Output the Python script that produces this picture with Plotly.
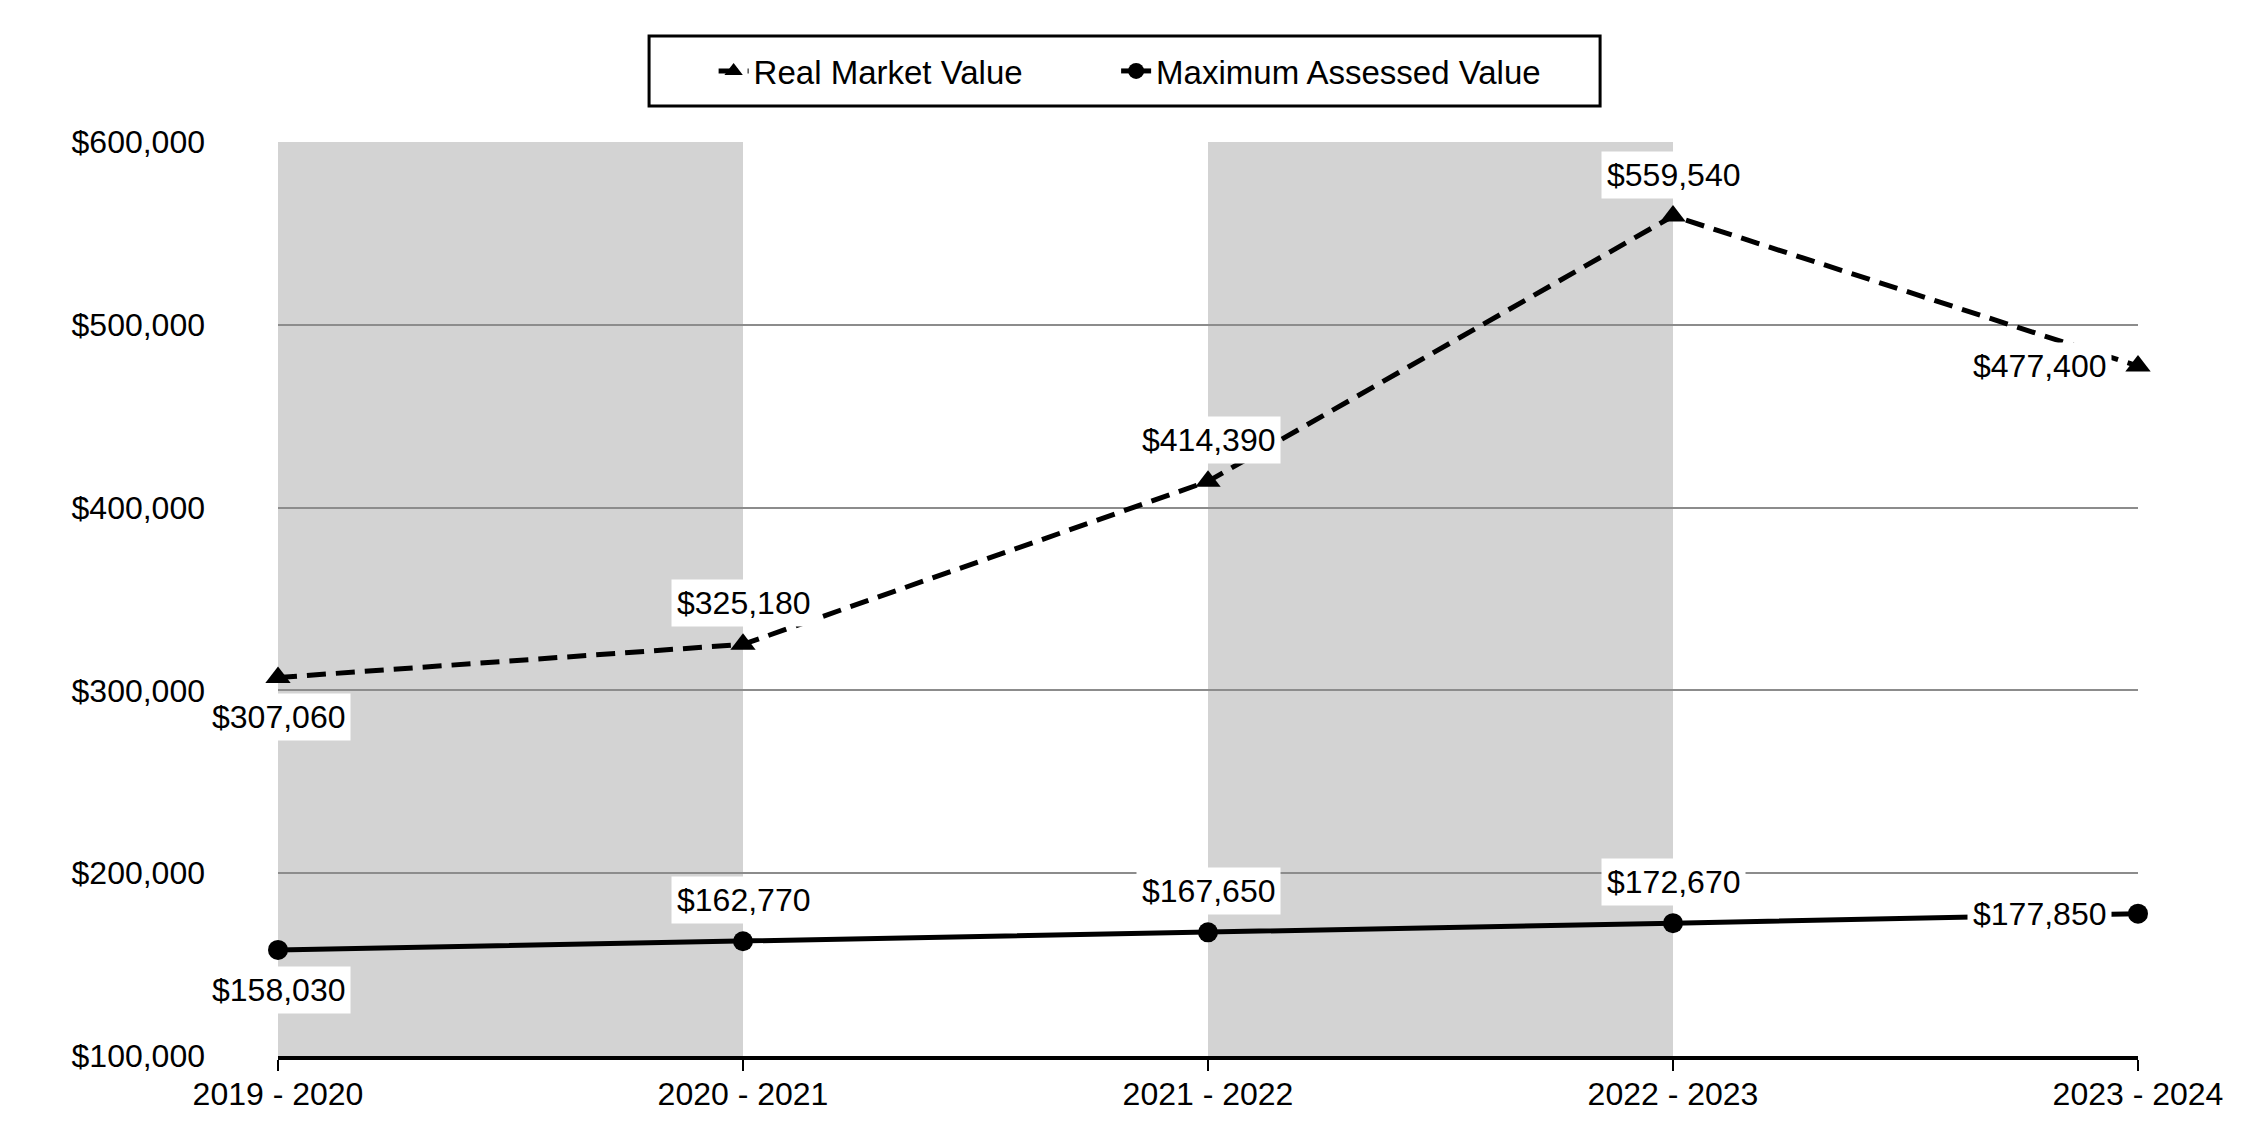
import plotly.graph_objects as go

years = ["2019 - 2020", "2020 - 2021", "2021 - 2022", "2022 - 2023", "2023 - 2024"]
real_market_value = [307060, 325180, 414390, 559540, 477400]
max_assessed_value = [158030, 162770, 167650, 172670, 177850]
y_ticks = [100000, 200000, 300000, 400000, 500000, 600000]
y_tick_text = [f"${v:,}" for v in y_ticks]

rmv_label_pos = ["below", "above", "above", "above", "left"]
mav_label_pos = ["below", "above", "above", "above", "left"]

FONT = "Liberation Sans, Arial, sans-serif"
FS = 32

fig = go.Figure()

fig.add_trace(go.Scatter(
    x=years, y=real_market_value, name="Real Market Value",
    mode="lines+markers",
    line=dict(color="black", width=5, dash="19px,10px"),
    marker=dict(symbol="triangle-up", size=22, color="black"),
    cliponaxis=False, legend="legend",
))
fig.add_trace(go.Scatter(
    x=years, y=max_assessed_value, name="Maximum Assessed Value",
    mode="lines+markers",
    line=dict(color="black", width=5),
    marker=dict(symbol="circle", size=20, color="black"),
    cliponaxis=False, legend="legend2",
))

# alternating grey bands
for i in (0, 2):
    fig.add_shape(type="rect", xref="x", yref="paper",
                  x0=years[i], x1=years[i + 1], y0=0, y1=1,
                  fillcolor="#d3d3d3", line=dict(width=0), layer="below")

# legend frame
fig.add_shape(type="rect", xref="paper", yref="paper",
              x0=0.1995, x1=0.7108, y0=1.0394, y1=1.116,
              fillcolor="rgba(0,0,0,0)", line=dict(color="black", width=3))

def add_labels(vals, pos):
    for x, v, p in zip(years, vals, pos):
        kw = dict(x=x, y=v, xref="x", yref="y", text=f"${v:,}", showarrow=False,
                  bgcolor="white", borderpad=5,
                  font=dict(family=FONT, size=FS, color="black"))
        if p == "above":
            kw.update(yshift=41)
        elif p == "below":
            kw.update(yshift=-40)
        elif p == "left":
            kw.update(xanchor="right", xshift=-26)
        fig.add_annotation(**kw)

add_labels(real_market_value, rmv_label_pos)
add_labels(max_assessed_value, mav_label_pos)

leg_common = dict(
    orientation="h", yanchor="middle", y=1.0777,
    borderwidth=0, bgcolor="rgba(0,0,0,0)", xanchor="left",
    font=dict(family=FONT, size=33, color="black"),
)

fig.update_layout(
    width=2242, height=1132,
    paper_bgcolor="white", plot_bgcolor="white",
    font=dict(family=FONT, size=FS, color="black"),
    margin=dict(l=270, r=112, t=134, b=84),
    showlegend=True,
    legend=dict(x=0.2342, **leg_common),
    legend2=dict(x=0.4506, **leg_common),
    xaxis=dict(
        type="category", range=[0, len(years) - 1],
        showgrid=False, showline=True, linecolor="black", linewidth=4,
        ticks="outside", ticklen=11, tickwidth=2, tickcolor="black",
        ticklabelstandoff=-4,
        tickfont=dict(family=FONT, size=FS, color="black"),
    ),
    yaxis=dict(
        range=[y_ticks[0], y_ticks[-1]], tickvals=y_ticks, ticktext=y_tick_text,
        showgrid=True, gridcolor="#8c8c8c", gridwidth=2,
        showline=False, zeroline=False, ticks="",
        ticklabelstandoff=72,
        tickfont=dict(family=FONT, size=FS, color="black"),
    ),
)

fig.write_html("out.html")
